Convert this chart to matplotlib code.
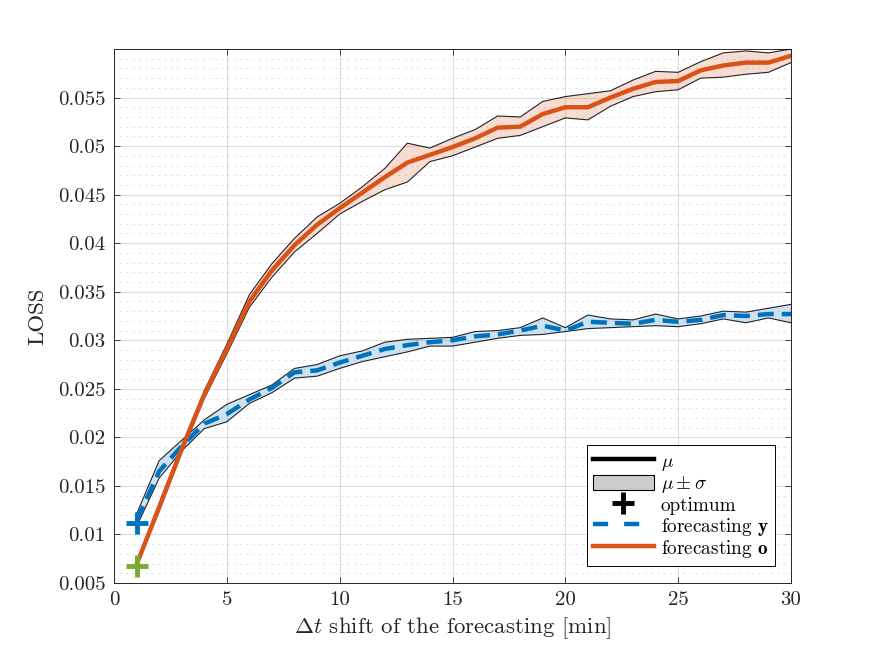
import numpy as np
import matplotlib
matplotlib.use("Agg")
import matplotlib.pyplot as plt
from matplotlib.lines import Line2D
from matplotlib.patches import Patch, Rectangle
from matplotlib.legend_handler import HandlerPatch
from matplotlib.ticker import FixedLocator, MultipleLocator

# ---------------- data ----------------
shift = list(range(1, 31))

o_mu = [0.0069, 0.0128, 0.0188, 0.0244, 0.0291, 0.0340, 0.0372, 0.0398, 0.0419, 0.0436,
        0.0452, 0.0468, 0.0483, 0.0491, 0.0499, 0.0508, 0.0519, 0.0520, 0.0533, 0.0540,
        0.0540, 0.0550, 0.0559, 0.0566, 0.0567, 0.0578, 0.0583, 0.0586, 0.0586, 0.0593]
o_up = [0.0071, 0.0132, 0.0191, 0.0248, 0.0296, 0.0347, 0.0379, 0.0405, 0.0427, 0.0441,
        0.0458, 0.0477, 0.0503, 0.0498, 0.0508, 0.0517, 0.0531, 0.0530, 0.0546, 0.0551,
        0.0554, 0.0557, 0.0568, 0.0577, 0.0576, 0.0587, 0.0596, 0.0598, 0.0596, 0.0600]
o_lo = [0.0067, 0.0124, 0.0184, 0.0240, 0.0286, 0.0334, 0.0365, 0.0391, 0.0410, 0.0430,
        0.0443, 0.0455, 0.0463, 0.0484, 0.0490, 0.0499, 0.0508, 0.0511, 0.0520, 0.0529,
        0.0527, 0.0541, 0.0551, 0.0556, 0.0558, 0.0570, 0.0571, 0.0574, 0.0576, 0.0586]

y_mu = [0.0114, 0.0165, 0.0191, 0.0214, 0.0224, 0.0239, 0.0251, 0.0267, 0.0269, 0.0277,
        0.0284, 0.0291, 0.0295, 0.0298, 0.0300, 0.0304, 0.0306, 0.0310, 0.0315, 0.0310,
        0.0319, 0.0318, 0.0317, 0.0321, 0.0319, 0.0321, 0.0326, 0.0325, 0.0327, 0.0327]
y_up = [0.0121, 0.0176, 0.0197, 0.0218, 0.0234, 0.0244, 0.0254, 0.0271, 0.0275, 0.0284,
        0.0289, 0.0298, 0.0301, 0.0302, 0.0303, 0.0309, 0.0310, 0.0313, 0.0323, 0.0313,
        0.0326, 0.0322, 0.0321, 0.0327, 0.0322, 0.0325, 0.0330, 0.0329, 0.0333, 0.0337]
y_lo = [0.0108, 0.0158, 0.0186, 0.0209, 0.0216, 0.0235, 0.0246, 0.0261, 0.0263, 0.0271,
        0.0278, 0.0283, 0.0288, 0.0294, 0.0294, 0.0298, 0.0302, 0.0305, 0.0306, 0.0309,
        0.0312, 0.0313, 0.0314, 0.0315, 0.0314, 0.0317, 0.0322, 0.0318, 0.0323, 0.0318]

opt_y = (1, 0.0112)
opt_o = (1, 0.0067)

xticks = [0, 5, 10, 15, 20, 25, 30]
xticklabels = ["0", "5", "10", "15", "20", "25", "30"]
yticks = [0.005, 0.01, 0.015, 0.02, 0.025, 0.03, 0.035, 0.04, 0.045, 0.05, 0.055]
yticklabels = ["0.005", "0.01", "0.015", "0.02", "0.025", "0.03", "0.035",
               "0.04", "0.045", "0.05", "0.055"]

# ---------------- style ----------------
plt.rcParams.update({
    "font.family": "cmr10",
    "mathtext.fontset": "cm",
    "axes.formatter.use_mathtext": True,
    "axes.unicode_minus": False,
})

BLUE = (0.0, 0.447, 0.741)
ORANGE = (0.850, 0.325, 0.098)
GREEN = (0.466, 0.674, 0.188)
AXC = (0.15, 0.15, 0.15)

fig = plt.figure(figsize=(8.75, 6.56), dpi=100)
ax = fig.add_axes([0.1303, 0.1113, 0.7737, 0.814])

# bands
ax.fill_between(shift, y_lo, y_up, facecolor=BLUE, alpha=0.2, edgecolor="none", zorder=2)
ax.fill_between(shift, o_lo, o_up, facecolor=ORANGE, alpha=0.2, edgecolor="none", zorder=2)
ax.plot(shift, y_up, color="k", lw=0.8, alpha=0.85, zorder=3)
ax.plot(shift, y_lo, color="k", lw=0.8, alpha=0.85, zorder=3)
ax.plot([shift[-1], shift[-1]], [y_lo[-1], y_up[-1]], color="k", lw=0.8, alpha=0.6, zorder=3)
ax.plot(shift, o_up, color="k", lw=0.8, alpha=0.85, zorder=3)
ax.plot(shift, o_lo, color="k", lw=0.8, alpha=0.85, zorder=3)
ax.plot([shift[-1], shift[-1]], [o_lo[-1], o_up[-1]], color="k", lw=0.8, alpha=0.6, zorder=3)

# means
ax.plot(shift, y_mu, color=BLUE, lw=3.2, dashes=(3.6, 1.8), zorder=4)
ax.plot(shift, o_mu, color=ORANGE, lw=3.2, zorder=4)

# optimum markers
ax.plot([opt_y[0]], [opt_y[1]], marker="+", color=BLUE, ms=16, mew=3.5, ls="none", zorder=5)
ax.plot([opt_o[0]], [opt_o[1]], marker="+", color=GREEN, ms=16, mew=3.5, ls="none", zorder=5)

# axes
ax.set_xlim(0, 30)
ax.set_ylim(0.005, 0.06)
ax.xaxis.set_major_locator(FixedLocator(xticks))
ax.set_xticklabels(xticklabels)
ax.yaxis.set_major_locator(FixedLocator(yticks))
ax.set_yticklabels(yticklabels)
ax.yaxis.set_minor_locator(MultipleLocator(0.001))

ax.grid(True, which="major", color=(0.15, 0.15, 0.15), alpha=0.15, lw=0.8, zorder=0)
ax.grid(True, which="minor", axis="y", color=(0.15, 0.15, 0.15), alpha=0.28, lw=0.7,
        ls=(0, (1, 5.5)), zorder=0)
ax.set_axisbelow(True)

ax.tick_params(which="major", direction="in", length=4.5, width=0.6, color=AXC,
               top=True, right=True, labelsize=15, pad=6, labelcolor=AXC)
ax.tick_params(which="minor", length=0, top=False, right=False, left=False, bottom=False)
for sp in ax.spines.values():
    sp.set_linewidth(0.7)
    sp.set_color(AXC)

ax.set_xlabel(r"$\Delta t$ shift of the forecasting [min]", fontsize=16.5, color=AXC, labelpad=4)
ax.set_ylabel("LOSS", fontsize=16.5, color=AXC, labelpad=8)


# legend
def small_rect(legend, orig_handle, xdescent, ydescent, width, height, fontsize):
    return Rectangle((-xdescent, -ydescent + height * 0.12), width, height * 0.76)


band_handle = Patch(facecolor=(0.8, 0.8, 0.8), edgecolor="k", lw=0.8)
handles = [
    Line2D([], [], color="k", lw=3.2),
    band_handle,
    Line2D([], [], color="k", marker="+", ms=16, mew=3.5, ls="none"),
    Line2D([], [], color=BLUE, lw=3.2, dashes=(3.4, 3.6)),
    Line2D([], [], color=ORANGE, lw=3.2),
]
labels = [r"$\mu$", r"$\mu\pm\sigma$", "optimum", r"forecasting $\mathbf{y}$",
          r"forecasting $\mathbf{o}$"]
leg = ax.legend(handles, labels, loc="lower right", bbox_to_anchor=(0.976, 0.032),
                fontsize=13.8, frameon=True, fancybox=False, framealpha=1,
                edgecolor="k", handlelength=3.2, handleheight=1.15, handletextpad=0.35,
                labelspacing=0.02, borderpad=0.3, borderaxespad=0,
                handler_map={band_handle: HandlerPatch(patch_func=small_rect)})
leg.get_frame().set_linewidth(0.7)

fig.savefig("out.png", dpi=100)
